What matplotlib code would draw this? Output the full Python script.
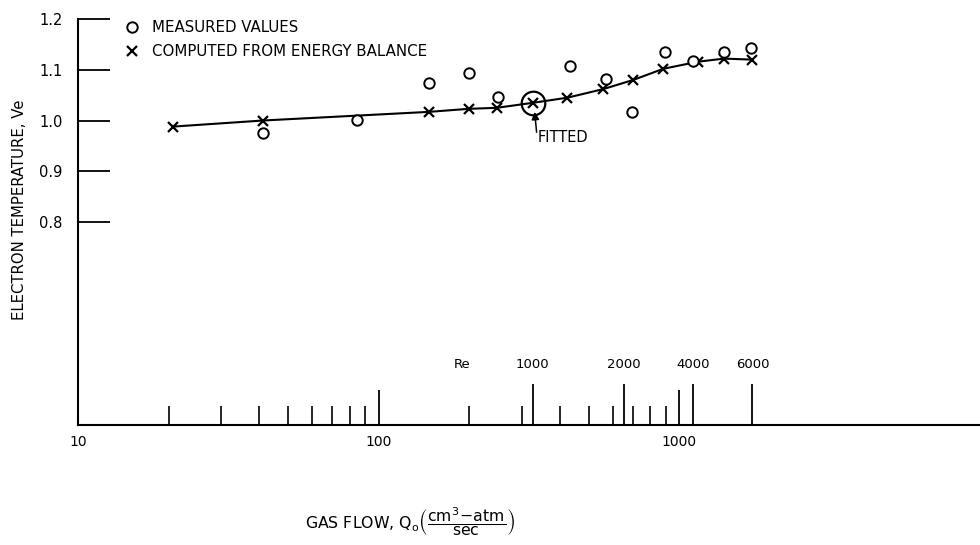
import matplotlib
matplotlib.use("Agg")
import matplotlib.pyplot as plt
from matplotlib.ticker import FixedLocator, NullFormatter

plt.rcParams['font.family'] = ['DejaVu Sans']
plt.rcParams['mathtext.fontset'] = 'dejavusans'

# computed from energy balance (x marks), gas flow Q vs Ve
computed_q = [20.7, 41.2, 146.6, 199, 246.6, 327, 424.6, 559, 703, 885, 1157, 1410, 1750]
computed_v = [0.988, 1.000, 1.017, 1.023, 1.025, 1.035, 1.045, 1.062, 1.080, 1.102, 1.116, 1.122, 1.120]

# measured values (open circles)
measured_q = [41.2, 84.5, 146.6, 200, 250, 434, 572, 698, 898, 1112, 1410, 1734]
measured_v = [0.976, 1.001, 1.074, 1.094, 1.047, 1.108, 1.082, 1.017, 1.135, 1.118, 1.135, 1.143]

# fitted point
fitted_q = 327
fitted_v = 1.035

# Reynolds number scale drawn along the bottom
re_labels = ['1000', '2000', '4000', '6000']
re_q = [325, 656, 1112, 1750]

y_ticks = [0.8, 0.9, 1.0, 1.1, 1.2]
x_major = [10, 100, 1000]
x_minor = [20, 30, 40, 50, 60, 70, 80, 90, 200, 300, 400, 500, 600, 700, 800, 900]

fig = plt.figure(figsize=(9.8, 5.45), dpi=100)
ax = fig.add_axes([0.0796, 0.2202, 0.9204, 0.7449])

ax.set_xscale('log')
ax.set_xlim(10, 10000)
ax.set_ylim(0.4, 1.2)

# curve and points
ax.plot(computed_q, computed_v, color='black', lw=1.5, zorder=2)
ax.plot(computed_q, computed_v, 'x', color='black', ms=6.5, mew=1.6, ls='none',
        label='COMPUTED FROM ENERGY BALANCE', zorder=3)
ax.plot(measured_q, measured_v, 'o', mfc='white', mec='black', ms=7.5, mew=1.4, ls='none',
        label='MEASURED VALUES', zorder=4)
ax.plot([fitted_q], [fitted_v], 'o', mfc='none', mec='black', ms=17, mew=1.6, zorder=5)

# FITTED arrow and label
ax.annotate('', xy=(fitted_q * 1.01, fitted_v - 0.018), xytext=(fitted_q * 1.025, 0.977),
            arrowprops=dict(arrowstyle='-|>', color='black', lw=1.1, mutation_scale=11,
                            shrinkA=0, shrinkB=0))
ax.text(fitted_q * 1.035, 0.967, 'FITTED', fontsize=10.5, ha='left', va='center')

# Re scale
trans = ax.get_xaxis_transform()
ax.vlines(re_q, 0, 0.101, transform=trans, color='black', lw=1.3)
for q, lab in zip(re_q, re_labels):
    ax.text(q, 0.132, lab, transform=trans, ha='center', va='bottom', fontsize=9.5)
ax.text(190, 0.132, 'Re', transform=trans, ha='center', va='bottom', fontsize=9.5)

# axes styling
for s in ['top', 'right']:
    ax.spines[s].set_visible(False)
ax.spines['left'].set_linewidth(1.5)
ax.spines['bottom'].set_linewidth(1.5)

ax.yaxis.set_major_locator(FixedLocator(y_ticks))
ax.set_yticklabels(['%.1f' % v for v in y_ticks])
ax.tick_params(axis='y', direction='in', length=23, width=1.3, pad=11, labelsize=10.5)

ax.xaxis.set_major_locator(FixedLocator(x_major))
ax.set_xticklabels([str(v) for v in x_major])
ax.xaxis.set_minor_locator(FixedLocator(x_minor))
ax.xaxis.set_minor_formatter(NullFormatter())
ax.tick_params(axis='x', which='major', direction='in', length=25, width=1.3, pad=7, labelsize=10)
ax.tick_params(axis='x', which='minor', direction='in', length=14, width=1.2)

ax.set_ylabel('ELECTRON TEMPERATURE, Ve', fontsize=10.7)
ax.yaxis.set_label_coords(-0.057, 0.53)

fig.text(0.418, 0.042,
         r'GAS FLOW, $\mathrm{Q_o}\left(\dfrac{\mathrm{cm^3\!-\!atm}}{\mathrm{sec}}\right)$',
         ha='center', va='center', fontsize=11.3)

handles, labels = ax.get_legend_handles_labels()
ax.legend(handles[::-1], labels[::-1], loc='upper left', bbox_to_anchor=(0.047, 1.012),
          frameon=False, fontsize=10.8, handletextpad=0.9, handlelength=0.8,
          labelspacing=0.6, borderaxespad=0)

fig.savefig('out.png', dpi=100)
